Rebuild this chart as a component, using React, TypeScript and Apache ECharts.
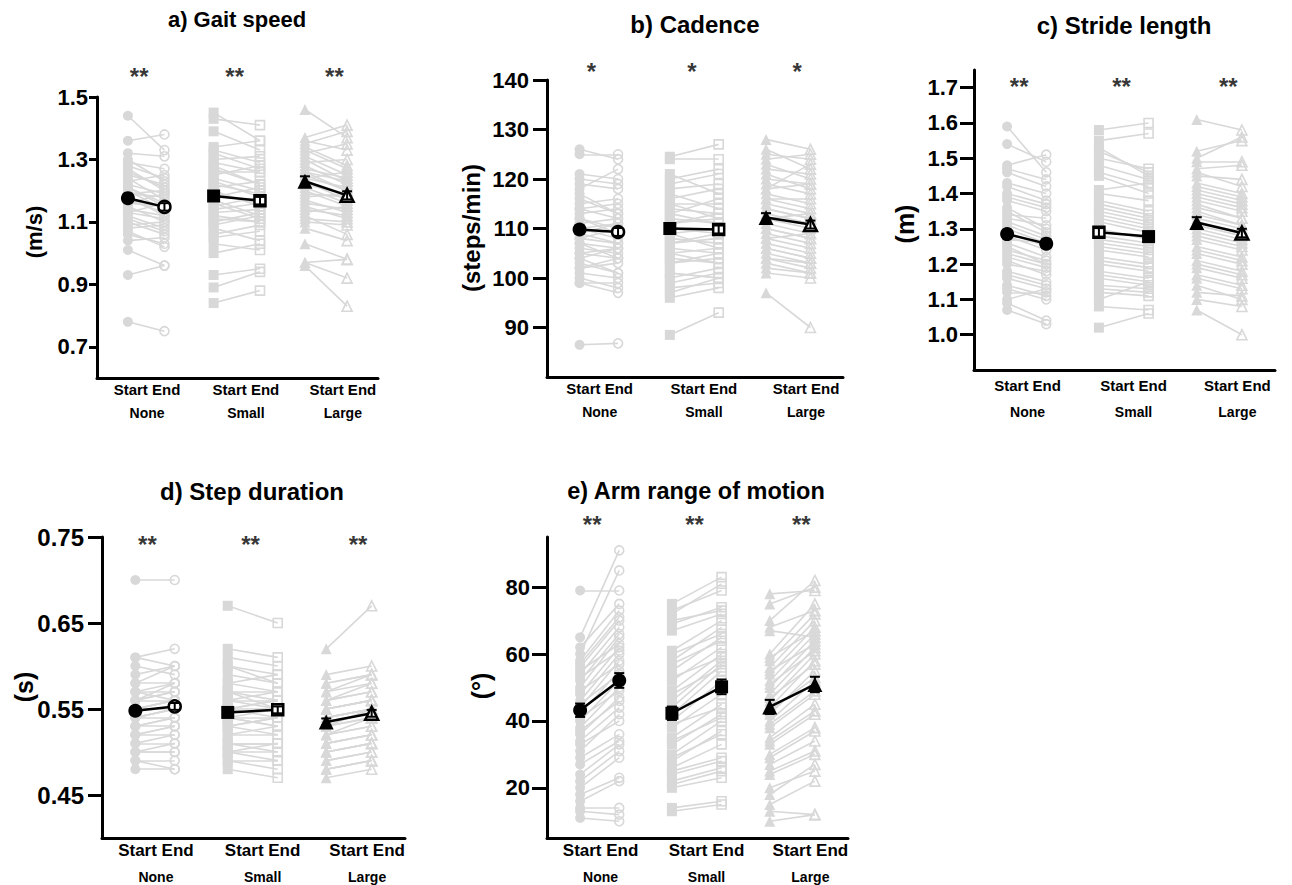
import React, { useEffect, useRef } from 'react';
import * as echarts from 'echarts';

// ---------------- data ----------------
const groupNames = ['None', 'Small', 'Large'];

// a) Gait speed (m/s)
const gaitSpeedNoneStart = [1.44, 1.36, 1.32, 1.30, 1.28, 1.27, 1.25, 1.24, 1.22, 1.21, 1.20, 1.19, 1.18, 1.16, 1.15, 1.13, 1.12, 1.10, 1.08, 1.06, 1.04, 1.01, 0.93, 0.78, 1.26, 1.23, 1.21, 1.19, 1.17, 1.14, 1.13, 1.11, 1.09, 1.07, 1.29, 1.16];
const gaitSpeedNoneEnd = [1.33, 1.38, 1.31, 1.23, 1.24, 1.20, 1.22, 1.17, 1.19, 1.16, 1.14, 1.18, 1.12, 1.15, 1.10, 1.11, 1.08, 1.06, 1.09, 1.03, 1.05, 0.96, 0.96, 0.75, 1.21, 1.25, 1.15, 1.20, 1.13, 1.12, 1.16, 1.07, 1.10, 1.02, 1.27, 1.19];
const gaitSpeedSmallStart = [1.45, 1.43, 1.39, 1.34, 1.32, 1.30, 1.28, 1.26, 1.24, 1.23, 1.21, 1.19, 1.17, 1.15, 1.13, 1.12, 1.10, 1.08, 1.05, 1.03, 1.00, 0.93, 0.89, 0.84, 1.33, 1.29, 1.27, 1.25, 1.22, 1.20, 1.18, 1.16, 1.14, 1.11, 1.09, 1.06];
const gaitSpeedSmallEnd = [1.36, 1.41, 1.33, 1.36, 1.27, 1.31, 1.22, 1.26, 1.20, 1.18, 1.23, 1.16, 1.12, 1.18, 1.14, 1.10, 1.13, 1.04, 1.07, 1.01, 1.03, 0.95, 0.94, 0.88, 1.29, 1.26, 1.22, 1.28, 1.19, 1.15, 1.21, 1.11, 1.16, 1.10, 1.12, 1.09];
const gaitSpeedLargeStart = [1.46, 1.37, 1.35, 1.33, 1.31, 1.29, 1.28, 1.27, 1.25, 1.24, 1.23, 1.22, 1.20, 1.19, 1.17, 1.16, 1.14, 1.12, 1.10, 1.08, 1.03, 0.97, 0.97, 0.96, 1.36, 1.34, 1.32, 1.30, 1.26, 1.24, 1.21, 1.18, 1.15, 1.13, 1.11, 1.26];
const gaitSpeedLargeEnd = [1.37, 1.41, 1.39, 1.27, 1.25, 1.30, 1.22, 1.24, 1.20, 1.21, 1.17, 1.19, 1.15, 1.18, 1.13, 1.14, 1.12, 1.06, 1.09, 1.04, 0.98, 0.92, 0.98, 0.83, 1.33, 1.28, 1.35, 1.23, 1.20, 1.26, 1.16, 1.19, 1.11, 1.15, 1.10, 1.23];
const gaitSpeedMean = [1.176, 1.148, 1.183, 1.168, 1.230, 1.185];
const gaitSpeedSE = [0.012, 0.012, 0.012, 0.012, 0.016, 0.013];
const gaitSpeedSig = ['**', '**', '**'];

// b) Cadence (steps/min)
const cadenceNoneStart = [126, 125, 121, 119, 117, 115, 114, 113, 112, 111, 110, 109, 108, 107, 106, 105, 104, 103, 102, 101, 99, 99, 86.5, 118, 120, 116, 114, 112, 110, 109, 108, 107, 105, 104, 102, 100];
const cadenceNoneEnd = [124, 125, 120, 118, 113, 116, 112, 114, 110, 112, 108, 111, 107, 106, 105, 104, 106, 101, 103, 100, 97, 99, 86.8, 122, 119, 113, 115, 109, 111, 107, 110, 104, 106, 101, 104, 98];
const cadenceSmallStart = [124.5, 124, 120, 118, 116, 114, 113, 112, 111, 110, 109, 108, 107, 106, 105, 104, 103, 101, 100, 98, 97, 96, 88.5, 115, 121, 119, 117, 115, 113, 111, 109, 107, 105, 103, 101, 99];
const cadenceSmallEnd = [127, 124, 122, 119, 118, 113, 116, 111, 113, 109, 110, 107, 109, 105, 106, 103, 104, 100, 102, 99, 100, 98, 93, 112, 117, 121, 114, 115, 111, 112, 106, 108, 103, 105, 100, 101];
const cadenceLargeStart = [128, 125, 124, 122, 120, 119, 117, 116, 115, 114, 113, 112, 111, 110, 109, 108, 107, 106, 105, 104, 103, 101, 97, 118, 126, 123, 121, 118, 116, 114, 112, 110, 108, 106, 104, 102];
const cadenceLargeEnd = [126, 124, 125, 121, 119, 117, 115, 116, 113, 112, 111, 110, 109, 108, 107, 106, 105, 104, 103, 102, 101, 100, 90, 123, 122, 120, 118, 119, 114, 112, 113, 108, 109, 104, 103, 101];
const cadenceMean = [109.8, 109.3, 110.0, 109.8, 112.2, 110.8];
const cadenceSE = [0.8, 0.8, 0.8, 0.8, 0.9, 0.8];
const cadenceSig = ['*', '*', '*'];

// c) Stride length (m)
const strideNoneStart = [1.59, 1.54, 1.48, 1.46, 1.43, 1.40, 1.38, 1.36, 1.34, 1.32, 1.30, 1.28, 1.26, 1.24, 1.22, 1.20, 1.18, 1.16, 1.14, 1.12, 1.09, 1.07, 1.35, 1.25, 1.47, 1.42, 1.39, 1.33, 1.31, 1.29, 1.27, 1.23, 1.21, 1.17, 1.13, 1.10];
const strideNoneEnd = [1.46, 1.49, 1.51, 1.42, 1.40, 1.37, 1.35, 1.30, 1.33, 1.28, 1.26, 1.24, 1.22, 1.21, 1.19, 1.18, 1.15, 1.13, 1.11, 1.12, 1.04, 1.03, 1.29, 1.20, 1.44, 1.38, 1.36, 1.31, 1.27, 1.25, 1.26, 1.20, 1.17, 1.14, 1.10, 1.13];
const strideSmallStart = [1.58, 1.55, 1.52, 1.48, 1.46, 1.40, 1.38, 1.36, 1.34, 1.32, 1.30, 1.28, 1.26, 1.24, 1.22, 1.20, 1.18, 1.16, 1.14, 1.12, 1.08, 1.02, 1.27, 1.35, 1.53, 1.50, 1.45, 1.41, 1.37, 1.33, 1.29, 1.25, 1.21, 1.17, 1.13, 1.10];
const strideSmallEnd = [1.60, 1.57, 1.46, 1.44, 1.42, 1.38, 1.35, 1.33, 1.31, 1.29, 1.27, 1.26, 1.24, 1.22, 1.20, 1.18, 1.16, 1.14, 1.13, 1.11, 1.07, 1.06, 1.25, 1.32, 1.45, 1.47, 1.40, 1.43, 1.34, 1.30, 1.28, 1.23, 1.19, 1.15, 1.12, 1.15];
const strideLargeStart = [1.61, 1.52, 1.50, 1.47, 1.45, 1.43, 1.41, 1.39, 1.37, 1.35, 1.33, 1.31, 1.29, 1.27, 1.25, 1.23, 1.21, 1.19, 1.17, 1.14, 1.10, 1.07, 1.30, 1.36, 1.49, 1.46, 1.42, 1.38, 1.34, 1.32, 1.28, 1.24, 1.20, 1.16, 1.12, 1.40];
const strideLargeEnd = [1.58, 1.55, 1.56, 1.48, 1.44, 1.40, 1.38, 1.36, 1.33, 1.31, 1.30, 1.28, 1.26, 1.24, 1.22, 1.20, 1.18, 1.16, 1.14, 1.10, 1.08, 1.00, 1.27, 1.33, 1.49, 1.42, 1.39, 1.35, 1.31, 1.29, 1.25, 1.21, 1.17, 1.13, 1.11, 1.37];
const strideMean = [1.285, 1.258, 1.290, 1.278, 1.318, 1.288];
const strideSE = [0.012, 0.011, 0.012, 0.011, 0.015, 0.012];
const strideSig = ['**', '**', '**'];

// d) Step duration (s)
const stepNoneStart = [0.70, 0.61, 0.61, 0.59, 0.58, 0.57, 0.57, 0.56, 0.56, 0.55, 0.55, 0.54, 0.54, 0.53, 0.53, 0.52, 0.52, 0.51, 0.50, 0.50, 0.49, 0.48, 0.55, 0.54, 0.60, 0.58, 0.57, 0.56, 0.55, 0.54, 0.53, 0.52, 0.51, 0.50, 0.49, 0.56];
const stepNoneEnd = [0.70, 0.62, 0.60, 0.60, 0.58, 0.58, 0.57, 0.56, 0.57, 0.55, 0.56, 0.55, 0.54, 0.54, 0.53, 0.53, 0.52, 0.51, 0.50, 0.51, 0.48, 0.48, 0.56, 0.55, 0.59, 0.60, 0.56, 0.57, 0.56, 0.55, 0.54, 0.53, 0.52, 0.50, 0.49, 0.58];
const stepSmallStart = [0.67, 0.62, 0.61, 0.60, 0.59, 0.58, 0.57, 0.56, 0.56, 0.55, 0.55, 0.54, 0.54, 0.53, 0.53, 0.52, 0.51, 0.51, 0.50, 0.50, 0.49, 0.48, 0.57, 0.54, 0.60, 0.58, 0.57, 0.56, 0.55, 0.54, 0.53, 0.52, 0.51, 0.50, 0.49, 0.55];
const stepSmallEnd = [0.65, 0.61, 0.60, 0.58, 0.58, 0.57, 0.57, 0.56, 0.55, 0.56, 0.54, 0.55, 0.53, 0.54, 0.52, 0.53, 0.51, 0.50, 0.51, 0.49, 0.49, 0.47, 0.55, 0.54, 0.59, 0.59, 0.56, 0.57, 0.55, 0.53, 0.54, 0.52, 0.51, 0.50, 0.48, 0.56];
const stepLargeStart = [0.62, 0.59, 0.58, 0.57, 0.56, 0.56, 0.55, 0.55, 0.54, 0.54, 0.53, 0.53, 0.52, 0.52, 0.51, 0.51, 0.50, 0.50, 0.49, 0.48, 0.48, 0.47, 0.53, 0.55, 0.58, 0.57, 0.56, 0.55, 0.54, 0.53, 0.52, 0.51, 0.50, 0.49, 0.48, 0.54];
const stepLargeEnd = [0.67, 0.60, 0.59, 0.59, 0.58, 0.57, 0.56, 0.56, 0.55, 0.55, 0.55, 0.54, 0.53, 0.53, 0.52, 0.52, 0.51, 0.51, 0.50, 0.49, 0.49, 0.48, 0.54, 0.56, 0.59, 0.58, 0.57, 0.56, 0.55, 0.55, 0.54, 0.52, 0.51, 0.50, 0.49, 0.55];
const stepMean = [0.548, 0.553, 0.546, 0.549, 0.535, 0.545];
const stepSE = [0.004, 0.004, 0.004, 0.004, 0.004, 0.004];
const stepSig = ['**', '**', '**'];

// e) Arm range of motion (deg)
const armNoneStart = [79, 65, 60, 58, 56, 54, 52, 50, 48, 46, 44, 42, 40, 38, 36, 34, 31, 29, 24, 22, 18, 14, 13, 11, 62, 57, 55, 53, 49, 45, 41, 37, 33, 27, 20, 16];
const armNoneEnd = [79, 91, 85, 73, 70, 68, 66, 65, 62, 60, 58, 55, 52, 50, 47, 44, 42, 36, 33, 31, 23, 14, 12, 10, 75, 71, 63, 61, 57, 54, 49, 46, 40, 34, 29, 22];
const armSmallStart = [75, 72, 69, 67, 61, 58, 55, 52, 49, 46, 44, 42, 40, 38, 35, 33, 30, 28, 26, 24, 22, 20, 13, 14, 73, 70, 60, 57, 53, 48, 43, 39, 34, 29, 25, 21];
const armSmallEnd = [83, 81, 74, 72, 70, 68, 65, 62, 60, 58, 57, 55, 52, 48, 45, 42, 40, 37, 33, 28, 26, 23, 15, 16, 79, 73, 66, 64, 59, 56, 50, 44, 41, 36, 29, 25];
const armLargeStart = [78, 70, 67, 60, 58, 56, 54, 52, 50, 48, 46, 44, 42, 40, 38, 35, 33, 30, 27, 24, 20, 15, 13, 10, 75, 68, 59, 55, 51, 47, 43, 39, 34, 29, 25, 18];
const armLargeEnd = [79, 82, 65, 75, 72, 70, 68, 66, 64, 62, 60, 58, 55, 52, 48, 45, 42, 38, 34, 30, 25, 22, 12, 12, 80, 73, 67, 63, 61, 57, 53, 49, 43, 37, 31, 27];
const armMean = [43.2, 52.1, 42.3, 50.2, 44.2, 50.9];
const armSE = [2.0, 2.2, 2.0, 2.2, 2.1, 2.3];
const armSig = ['**', '**', '**'];

// ---------------- layout ----------------
const X_POS = [1.1, 2.4, 4.15, 5.8, 7.4, 8.9];
const LABEL_POS = [1.78, 5.3, 8.75];
const STAR_POS = [1.5, 4.9, 8.45];
const GRAY = '#d8d8d8';
const INK = '#000';
const FONT = '"Liberation Sans", Arial, Helvetica, sans-serif';
const SHAPES = ['circle', 'rect', 'triangle'];
const GRAY_SIZE = [10, 10, 11];
const MEAN_SIZE = [14, 13, 15];

const panels = [
  {
    title: 'a) Gait speed', titleX: 237, titleY: 19, titleSize: 22,
    name: '(m/s)', nameX: 34, nameY: 232, nameSize: 22,
    grid: { left: 97, top: 97, width: 281, height: 281 },
    min: 0.6, max: 1.5, ticks: [0.7, 0.9, 1.1, 1.3, 1.5], dec: 1,
    tickLen: 8, labelMargin: 9, tickSize: 22,
    starY: 1.566, sig: gaitSpeedSig,
    starts: [gaitSpeedNoneStart, gaitSpeedSmallStart, gaitSpeedLargeStart],
    ends: [gaitSpeedNoneEnd, gaitSpeedSmallEnd, gaitSpeedLargeEnd],
    mean: gaitSpeedMean, se: gaitSpeedSE,
    filled: [[true, false], [true, false], [true, false]],
    xl: { size: 15, lh: 18, gsize: 14, glh: 30, margin: 2 },
  },
  {
    title: 'b) Cadence', titleX: 695, titleY: 24, titleSize: 24,
    name: '(steps/min)', nameX: 471, nameY: 228, nameSize: 24,
    grid: { left: 547, top: 80, width: 296, height: 297 },
    min: 80, max: 140, ticks: [90, 100, 110, 120, 130, 140], dec: 0,
    tickLen: 14, labelMargin: 18, tickSize: 22,
    starY: 141.7, sig: cadenceSig,
    starts: [cadenceNoneStart, cadenceSmallStart, cadenceLargeStart],
    ends: [cadenceNoneEnd, cadenceSmallEnd, cadenceLargeEnd],
    mean: cadenceMean, se: cadenceSE,
    filled: [[true, false], [true, false], [true, false]],
    xl: { size: 15, lh: 18, gsize: 14, glh: 30, margin: 2 },
  },
  {
    title: 'c) Stride length', titleX: 1124, titleY: 25, titleSize: 24,
    name: '(m)', nameX: 905, nameY: 224, nameSize: 25,
    grid: { left: 974, top: 70, width: 301, height: 300 },
    min: 0.9, max: 1.75, ticks: [1.0, 1.1, 1.2, 1.3, 1.4, 1.5, 1.6, 1.7], dec: 1,
    tickLen: 14, labelMargin: 16, tickSize: 22,
    starY: 1.703, sig: strideSig,
    starts: [strideNoneStart, strideSmallStart, strideLargeStart],
    ends: [strideNoneEnd, strideSmallEnd, strideLargeEnd],
    mean: strideMean, se: strideSE,
    filled: [[true, true], [false, true], [true, false]],
    xl: { size: 15, lh: 18, gsize: 14, glh: 36, margin: 6 },
  },
  {
    title: 'd) Step duration', titleX: 252, titleY: 491, titleSize: 24,
    name: '(s)', nameX: 24, nameY: 687, nameSize: 25,
    grid: { left: 102, top: 537, width: 303, height: 301 },
    min: 0.4, max: 0.75, ticks: [0.45, 0.55, 0.65, 0.75], dec: 2,
    tickLen: 14, labelMargin: 18, tickSize: 24,
    starY: 0.741, sig: stepSig,
    starts: [stepNoneStart, stepSmallStart, stepLargeStart],
    ends: [stepNoneEnd, stepSmallEnd, stepLargeEnd],
    mean: stepMean, se: stepSE,
    filled: [[true, false], [true, false], [true, false]],
    xl: { size: 17, lh: 20, gsize: 14, glh: 34, margin: 2 },
  },
  {
    title: 'e) Arm range of motion', titleX: 696, titleY: 491, titleSize: 23.5,
    name: '(°)', nameX: 481, nameY: 686, nameSize: 25,
    grid: { left: 547, top: 537, width: 301, height: 301 },
    min: 5, max: 95, ticks: [20, 40, 60, 80], dec: 0,
    tickLen: 15, labelMargin: 17, tickSize: 22,
    starY: 98.7, sig: armSig,
    starts: [armNoneStart, armSmallStart, armLargeStart],
    ends: [armNoneEnd, armSmallEnd, armLargeEnd],
    mean: armMean, se: armSE,
    filled: [[true, true], [true, true], [true, true]],
    xl: { size: 17, lh: 20, gsize: 14, glh: 34, margin: 2 },
  },
];

function buildOption() {
  const grids: any[] = [];
  const xAxes: any[] = [];
  const yAxes: any[] = [];
  const series: any[] = [];
  const graphics: any[] = [];

  panels.forEach((p, i) => {
    grids.push({ ...p.grid, containLabel: false });
    xAxes.push({
      type: 'value', gridIndex: i, min: 0, max: 10,
      splitLine: { show: false },
      axisLine: { show: true, lineStyle: { color: INK, width: 3 } },
      axisTick: { show: false },
      axisLabel: {
        customValues: LABEL_POS,
        margin: p.xl.margin,
        formatter: (v: number) => {
          let k = 0;
          LABEL_POS.forEach((lp, j) => { if (Math.abs(lp - v) < Math.abs(LABEL_POS[k] - v)) k = j; });
          return '{a|Start End}\n{b|' + groupNames[k] + '}';
        },
        rich: {
          a: { fontSize: p.xl.size, fontWeight: 'bold', fontFamily: FONT, color: INK, lineHeight: p.xl.lh },
          b: { fontSize: p.xl.gsize, fontWeight: 'bold', fontFamily: FONT, color: INK, lineHeight: p.xl.glh },
        },
      },
    });
    yAxes.push({
      type: 'value', gridIndex: i, min: p.min, max: p.max,
      splitLine: { show: false },
      axisLine: { show: true, lineStyle: { color: INK, width: 3 } },
      axisTick: { show: true, customValues: p.ticks, length: p.tickLen, lineStyle: { color: INK, width: 3 } },
      axisLabel: {
        customValues: p.ticks, margin: p.labelMargin,
        fontSize: p.tickSize, fontWeight: 'bold', fontFamily: FONT, color: INK,
        formatter: (v: number) => v.toFixed(p.dec),
      },
    });

    // individual subjects
    for (let g = 0; g < 3; g++) {
      const xs = X_POS[2 * g];
      const xe = X_POS[2 * g + 1];
      const st = p.starts[g];
      const en = p.ends[g];
      series.push({
        type: 'lines', coordinateSystem: 'cartesian2d', xAxisIndex: i, yAxisIndex: i,
        silent: true, z: 1,
        lineStyle: { color: GRAY, width: 1.6, opacity: 1 },
        data: st.map((v, k) => ({ coords: [[xs, v], [xe, en[k]]] })),
      });
      series.push({
        type: 'scatter', xAxisIndex: i, yAxisIndex: i, silent: true, z: 2,
        symbol: SHAPES[g], symbolSize: GRAY_SIZE[g],
        itemStyle: { color: GRAY, opacity: 1 },
        data: st.map((v) => [xs, v]),
      });
      series.push({
        type: 'scatter', xAxisIndex: i, yAxisIndex: i, silent: true, z: 2,
        symbol: SHAPES[g], symbolSize: GRAY_SIZE[g] - 1,
        itemStyle: { color: 'rgba(255,255,255,0)', borderColor: GRAY, borderWidth: 1.6, opacity: 1 },
        data: en.map((v) => [xe, v]),
      });

      // mean line + markers
      const item = (x: number, y: number, filled: boolean) => ({
        value: [x, y],
        symbol: SHAPES[g],
        symbolSize: filled ? MEAN_SIZE[g] : MEAN_SIZE[g] - 2,
        itemStyle: filled
          ? { color: '#000', borderColor: '#000', borderWidth: 0 }
          : { color: '#fff', borderColor: '#000', borderWidth: 2.5 },
      });
      series.push({
        type: 'line', xAxisIndex: i, yAxisIndex: i, silent: true, z: 5,
        showSymbol: true, showAllSymbol: true,
        lineStyle: { color: '#000', width: 2.5 },
        data: [
          item(xs, p.mean[2 * g], p.filled[g][0]),
          item(xe, p.mean[2 * g + 1], p.filled[g][1]),
        ],
      });
    }

    // error bars (SE)
    series.push({
      type: 'custom', xAxisIndex: i, yAxisIndex: i, silent: true, z: 6,
      encode: { x: 0, y: [1, 2] },
      data: p.mean.map((m, k) => [X_POS[k], m - p.se[k], m + p.se[k]]),
      renderItem: (params: any, api: any) => {
        const x = api.value(0);
        const lo = api.coord([x, api.value(1)]);
        const hi = api.coord([x, api.value(2)]);
        const w = 5;
        return {
          type: 'group',
          children: [
            { type: 'line', shape: { x1: lo[0], y1: lo[1], x2: hi[0], y2: hi[1] }, style: { stroke: '#000', lineWidth: 2 } },
            { type: 'line', shape: { x1: hi[0] - w, y1: hi[1], x2: hi[0] + w, y2: hi[1] }, style: { stroke: '#000', lineWidth: 2 } },
            { type: 'line', shape: { x1: lo[0] - w, y1: lo[1], x2: lo[0] + w, y2: lo[1] }, style: { stroke: '#000', lineWidth: 2 } },
          ],
        };
      },
    });

    // significance stars
    series.push({
      type: 'scatter', xAxisIndex: i, yAxisIndex: i, silent: true, z: 7, clip: false,
      symbolSize: 1, itemStyle: { color: 'rgba(0,0,0,0)' },
      data: STAR_POS.map((x, k) => ({ value: [x, p.starY], label: { formatter: p.sig[k] } })),
      label: {
        show: true, position: 'inside', fontSize: 24, fontWeight: 'bold', fontFamily: FONT, color: INK,
      },
    });

    graphics.push({
      type: 'text', x: p.titleX, y: p.titleY,
      style: {
        text: p.title, fontSize: p.titleSize, fontWeight: 'bold', fontFamily: FONT, fill: INK,
        align: 'center', verticalAlign: 'middle',
      },
    });
    graphics.push({
      type: 'text', x: p.nameX, y: p.nameY, rotation: Math.PI / 2,
      style: {
        text: p.name, fontSize: p.nameSize, fontWeight: 'bold', fontFamily: FONT, fill: INK,
        align: 'center', verticalAlign: 'middle',
      },
    });
  });

  return {
    animation: false,
    backgroundColor: '#fff',
    grid: grids,
    xAxis: xAxes,
    yAxis: yAxes,
    series,
    graphic: graphics,
  };
}

export default function App() {
  const ref = useRef<HTMLDivElement>(null);
  useEffect(() => {
    if (!ref.current) return;
    const chart = echarts.init(ref.current, undefined, { renderer: 'svg' });
    chart.setOption(buildOption() as any);
    return () => chart.dispose();
  }, []);
  return (
    <div
      ref={ref}
      style={{ position: 'fixed', left: 0, top: 0, width: 1292, height: 885, background: '#fff' }}
    />
  );
}
